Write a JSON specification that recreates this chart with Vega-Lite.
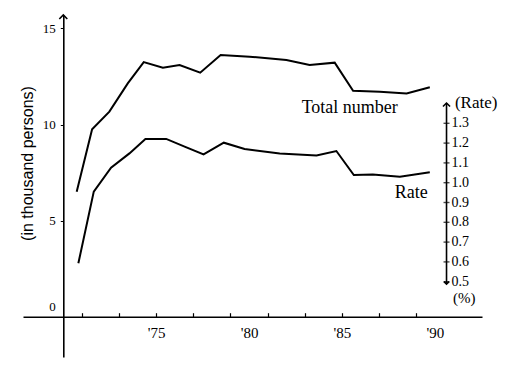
{
  "$schema": "https://vega.github.io/schema/vega-lite/v6.json",
  "width": 459,
  "height": 342,
  "autosize": {"type": "none"},
  "padding": {"left": 23, "top": 15, "right": 37, "bottom": 14},
  "background": "white",
  "data": {"values": [{}]},
  "config": {"view": {"stroke": null}},
  "datasets": {
    "total": [
      {"year": 1970.72, "value": 6.50},
      {"year": 1971.55, "value": 9.75},
      {"year": 1972.48, "value": 10.67},
      {"year": 1973.47, "value": 12.14},
      {"year": 1974.33, "value": 13.25},
      {"year": 1975.36, "value": 12.96},
      {"year": 1976.26, "value": 13.10},
      {"year": 1977.37, "value": 12.70},
      {"year": 1978.47, "value": 13.62},
      {"year": 1980.03, "value": 13.53},
      {"year": 1982.01, "value": 13.36},
      {"year": 1983.26, "value": 13.10},
      {"year": 1984.61, "value": 13.22},
      {"year": 1985.60, "value": 11.76},
      {"year": 1987.04, "value": 11.71},
      {"year": 1988.48, "value": 11.62},
      {"year": 1989.73, "value": 11.94}
    ],
    "rate": [
      {"year": 1970.81, "value": 0.593},
      {"year": 1971.64, "value": 0.955},
      {"year": 1972.57, "value": 1.076},
      {"year": 1973.56, "value": 1.148},
      {"year": 1974.42, "value": 1.221},
      {"year": 1975.54, "value": 1.221},
      {"year": 1976.53, "value": 1.182},
      {"year": 1977.55, "value": 1.143},
      {"year": 1978.64, "value": 1.202},
      {"year": 1979.76, "value": 1.170},
      {"year": 1981.65, "value": 1.148},
      {"year": 1983.63, "value": 1.137},
      {"year": 1984.70, "value": 1.160},
      {"year": 1985.64, "value": 1.039},
      {"year": 1986.66, "value": 1.041},
      {"year": 1988.12, "value": 1.030},
      {"year": 1989.73, "value": 1.053}
    ],
    "rateTicks": [
      {"value": 0.5}, {"value": 0.6}, {"value": 0.7}, {"value": 0.8}, {"value": 0.9},
      {"value": 1.0}, {"value": 1.1}, {"value": 1.2}, {"value": 1.3}
    ]
  },
  "layer": [
    {
      "layer": [
        {
          "data": {"name": "total"},
          "mark": {"type": "line", "color": "black", "strokeWidth": 2},
          "encoding": {
            "x": {
              "field": "year", "type": "quantitative", "title": null,
              "scale": {"domain": [1967.83, 1992.54], "nice": false, "zero": false},
              "axis": {
                "title": null,
                "orient": "bottom",
                "offset": -40.3,
                "values": [1971, 1972, 1973, 1974, 1975, 1976, 1977, 1978, 1979, 1980, 1981, 1982, 1983, 1984, 1985, 1986, 1987, 1988, 1989, 1990],
                "tickSize": -4,
                "tickColor": "black",
                "tickWidth": 1.2,
                "domainColor": "black",
                "domainWidth": 1.6,
                "grid": false,
                "labels": false
              }
            },
            "y": {
              "field": "value", "type": "quantitative",
              "scale": {"domain": [-2.097, 15.70], "nice": false, "zero": false},
              "axis": {
                "title": "(in thousand persons)",
                "titleFont": "Liberation Sans",
                "titleFontSize": 16,
                "titleFontWeight": "normal",
                "titleColor": "black",
                "titleAngle": 270,
                "titleBaseline": "middle",
                "titleAlign": "center",
                "titleX": -36,
                "titleY": 148,
                "offset": -40.3,
                "values": [0, 5, 10, 15],
                "tickSize": 3,
                "tickColor": "black",
                "domainColor": "black",
                "domainWidth": 1.6,
                "grid": false,
                "labelFont": "Liberation Serif",
                "labelFontSize": 13,
                "labelColor": "black",
                "labelPadding": 5,
                "labelOffset": {"condition": {"test": "datum.value === 0", "value": -10}, "value": 0}
              }
            }
          }
        },
        {
          "mark": {"type": "text", "font": "Liberation Serif", "fontSize": 18, "align": "center", "baseline": "alphabetic", "color": "black"},
          "encoding": {
            "x": {"datum": 1985.42, "type": "quantitative", "title": null},
            "y": {"datum": 10.6, "type": "quantitative", "title": null},
            "text": {"value": "Total number"}
          }
        },
        {
          "mark": {"type": "point", "shape": "M-1,1L0,0L1,1", "size": 64, "filled": false, "stroke": "black", "strokeWidth": 1.6, "opacity": 1},
          "encoding": {
            "x": {"datum": 1970, "type": "quantitative", "title": null},
            "y": {"datum": 15.70, "type": "quantitative", "title": null}
          }
        }
      ]
    },
    {
      "layer": [
        {
          "data": {"name": "rate"},
          "mark": {"type": "line", "color": "black", "strokeWidth": 2},
          "encoding": {
            "x": {
              "field": "year", "type": "quantitative", "title": null,
              "axis": {
                "title": null,
                "orient": "bottom",
                "offset": -40.3,
                "values": [1975, 1980, 1985, 1990],
                "ticks": false,
                "domain": false,
                "grid": false,
                "labelExpr": "\"'\" + slice(toString(datum.value), 2)",
                "labelFont": "Liberation Serif",
                "labelFontSize": 15,
                "labelColor": "black",
                "labelPadding": 9,
                "labelOverlap": false
              }
            },
            "y": {
              "field": "value", "type": "quantitative",
              "scale": {"domain": [0.1197, 1.847], "nice": false, "zero": false},
              "axis": null
            }
          }
        },
        {
          "mark": {"type": "text", "font": "Liberation Serif", "fontSize": 18, "align": "center", "baseline": "alphabetic", "color": "black"},
          "encoding": {
            "x": {"datum": 1988.73, "type": "quantitative", "title": null},
            "y": {"datum": 0.923, "type": "quantitative", "axis": null},
            "text": {"value": "Rate"}
          }
        },
        {
          "mark": {"type": "rule", "color": "black", "strokeWidth": 1.6},
          "encoding": {
            "x": {"datum": 1990.63, "type": "quantitative", "title": null},
            "y": {"datum": 0.488, "type": "quantitative", "axis": null},
            "y2": {"datum": 1.4025}
          }
        },
        {
          "data": {"name": "rateTicks"},
          "mark": {"type": "tick", "orient": "horizontal", "size": 6, "thickness": 1.4, "color": "black"},
          "encoding": {
            "x": {"datum": 1990.63, "type": "quantitative", "title": null},
            "y": {"field": "value", "type": "quantitative", "axis": null}
          }
        },
        {
          "data": {"name": "rateTicks"},
          "mark": {"type": "text", "font": "Liberation Serif", "fontSize": 14, "align": "left", "baseline": "middle", "dx": 5, "color": "black"},
          "encoding": {
            "x": {"datum": 1990.63, "type": "quantitative", "title": null},
            "y": {"field": "value", "type": "quantitative", "axis": null},
            "text": {"field": "value", "type": "quantitative", "format": ".1f"}
          }
        },
        {
          "mark": {"type": "point", "shape": "M-1,1L0,0L1,1", "size": 50, "filled": false, "stroke": "black", "strokeWidth": 1.6, "opacity": 1},
          "encoding": {
            "x": {"datum": 1990.63, "type": "quantitative", "title": null},
            "y": {"datum": 1.4025, "type": "quantitative", "axis": null}
          }
        },
        {
          "mark": {"type": "point", "shape": "M-1,-1L0,0L1,-1", "size": 25, "filled": false, "stroke": "black", "strokeWidth": 1.6, "opacity": 1},
          "encoding": {
            "x": {"datum": 1990.63, "type": "quantitative", "title": null},
            "y": {"datum": 0.488, "type": "quantitative", "axis": null}
          }
        },
        {
          "mark": {"type": "text", "font": "Liberation Serif", "fontSize": 17, "align": "left", "baseline": "middle", "color": "black"},
          "encoding": {
            "x": {"datum": 1991.08, "type": "quantitative", "title": null},
            "y": {"datum": 1.4025, "type": "quantitative", "axis": null},
            "text": {"value": "(Rate)"}
          }
        },
        {
          "mark": {"type": "text", "font": "Liberation Serif", "fontSize": 15, "align": "center", "baseline": "middle", "color": "black"},
          "encoding": {
            "x": {"datum": 1991.59, "type": "quantitative", "title": null},
            "y": {"datum": 0.42, "type": "quantitative", "axis": null},
            "text": {"value": "(%)"}
          }
        }
      ]
    }
  ],
  "resolve": {"scale": {"y": "independent"}, "axis": {"y": "independent", "x": "independent"}}
}
